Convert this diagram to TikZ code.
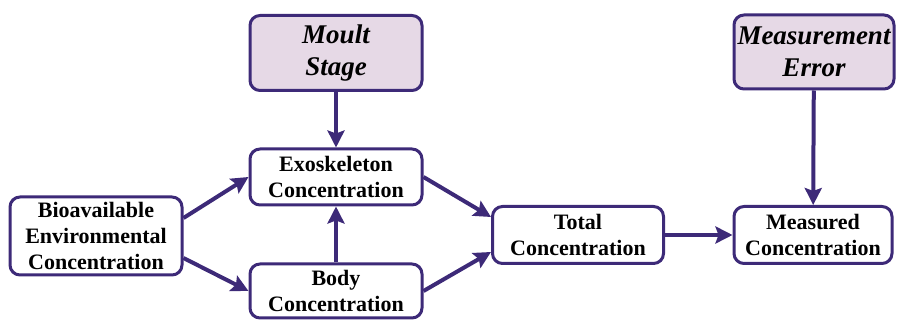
\documentclass[tikz,border=0pt]{standalone}
\usepackage{fontspec}
\setmainfont{Liberation Serif}
\usetikzlibrary{arrows.meta}
\definecolor{boxline}{HTML}{3D2A78}
\definecolor{boxfill}{HTML}{E6D9E6}
\tikzset{
 conc/.style={draw=boxline, line width=3pt, rounded corners=10pt, fill=white, align=center, inner sep=0pt,
  font=\fontsize{22}{26}\selectfont\bfseries},
 factor/.style={conc, fill=boxfill, font=\fontsize{27}{32}\selectfont\bfseries\itshape},
 flow/.style={draw=boxline, line width=4pt, -{Stealth[length=17pt,width=17pt,inset=3pt]}}
}
\begin{document}
\begin{tikzpicture}[x=1pt,y=-1pt]
 \useasboundingbox (0,0) rectangle (897,320);
 \node[conc, minimum width=172pt, minimum height=78pt] (bio) at (96,236) {Bioavailable\\Environmental\\Concentration};
 \node[conc, minimum width=172pt, minimum height=56pt] (exo) at (336,177) {Exoskeleton\\Concentration};
 \node[conc, minimum width=172pt, minimum height=54pt] (body) at (336,291) {Body\\Concentration};
 \node[factor, minimum width=172pt, minimum height=75pt] (moult) at (336,53) {Moult\\Stage};
 \node[conc, minimum width=171pt, minimum height=57pt] (total) at (578,235) {Total\\Concentration};
 \node[conc, minimum width=158pt, minimum height=57pt] (measured) at (813,235) {Measured\\Concentration};
 \node[factor, minimum width=160pt, minimum height=74pt] (error) at (814,52) {Measurement\\Error};
 \draw[flow] (moult) -- (exo);
 \draw[flow] (body) -- (exo);
 \draw[flow] ([yshift=18pt]bio.east) -- (exo.west);
 \draw[flow] ([yshift=-22pt]bio.east) -- (body.west);
 \draw[flow] (exo.east) -- ([yshift=18pt]total.west);
 \draw[flow] (body.east) -- ([yshift=-17pt]total.west);
 \draw[flow] (total) -- (measured);
 \draw[flow] (error) -- (measured);
\end{tikzpicture}
\end{document}
